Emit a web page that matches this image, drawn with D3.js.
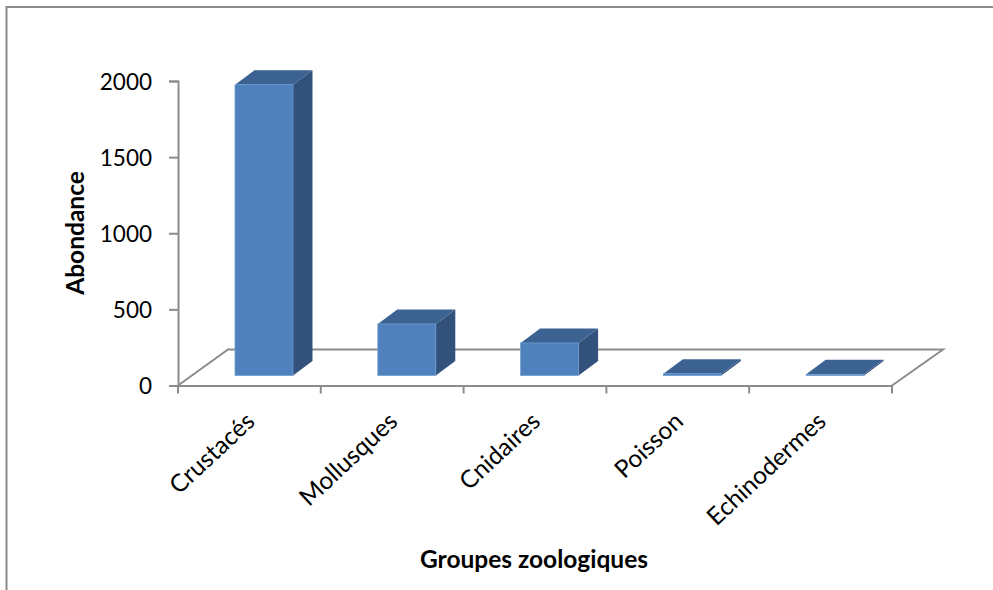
<!DOCTYPE html>
<html>
<head>
    <meta charset="utf-8">
    <title>Abondance par groupe zoologique</title>
    <script src="https://d3js.org/d3.v7.min.js"></script>
    <style>
        html, body { margin: 0; background: #fff; }
        text { font-family: Lato, "Open Sans", sans-serif; fill: #000; }
    </style>
</head>
<body>
    <div id="chart"></div>

    <script>
        const groupes = ["Crustacés", "Mollusques", "Cnidaires", "Poisson", "Echinodermes"];
        const abondance = [1910, 339, 214, 12, 8];
        const yTicks = [0, 500, 1000, 1500, 2000];

        const width = 993, height = 590;
        const grey = "#8c8c8c";

        const svg = d3.select("#chart")
            .append("svg")
            .attr("width", width)
            .attr("height", height)
            .style("display", "block");

        // cadre du graphique (haut et gauche seulement)
        svg.append("path")
            .attr("d", `M6.5,${height}V7H${width}`)
            .attr("fill", "none")
            .attr("stroke", grey)
            .attr("stroke-width", 2);

        const x = d3.scaleBand().domain(groupes).range([178, 892]).paddingInner(0.594).paddingOuter(0.297);
        const y = d3.scaleLinear().domain([0, 2000]).range([385.5, 81]);

        // sol en perspective
        const floorDx = 50, floorDy = 36;
        svg.append("path")
            .attr("d", `M178,385.5L${178 + floorDx},${385.5 - floorDy}H${892 + floorDx + 1}L892,385.5`)
            .attr("fill", "none")
            .attr("stroke", grey)
            .attr("stroke-width", 2);

        // axes
        const axisY = d3.axisLeft(y).tickValues(yTicks).tickSize(9).tickPadding(17).tickFormat(d3.format("d"));
        const gy = svg.append("g").attr("transform", "translate(178,0)").call(axisY);
        gy.selectAll("text")
            .attr("font-size", 22.5)
            .attr("dy", "0.37em")
            .style("font-family", "Lato, sans-serif");

        const axisX = d3.axisBottom(x).tickValues([]).tickSize(0);
        const gx = svg.append("g").attr("transform", "translate(0,385.5)").call(axisX);

        // graduations entre les groupes
        const step = x.step();
        gx.selectAll("line.sep")
            .data(d3.range(groupes.length + 1))
            .enter().append("line")
            .attr("class", "sep")
            .attr("x1", d => 178 + d * step)
            .attr("x2", d => 178 + d * step)
            .attr("y1", 0)
            .attr("y2", 8)
            .attr("stroke", grey)
            .attr("stroke-width", 2);

        svg.selectAll(".domain").attr("stroke", grey).attr("stroke-width", 2);
        gy.selectAll("line").attr("stroke", grey).attr("stroke-width", 2);

        // barres 3D : face avant, dessus, côté
        const base = 375.5, depthX = 19.5, depthY = 14.5, shift = 14.6;
        const scale = y(0) - y(1);
        const bars = svg.selectAll(".bar")
            .data(groupes.map((g, i) => ({ g, v: abondance[i] })))
            .enter().append("g")
            .attr("class", "bar");

        const barLeft = d => x(d.g) + shift;
        const barRight = d => barLeft(d) + x.bandwidth();
        const barTop = d => base - d.v * scale;

        bars.append("path")
            .attr("fill", "#32527c")
            .attr("d", d => `M${barRight(d)},${base}L${barRight(d) + depthX},${base - depthY}V${barTop(d) - depthY}L${barRight(d)},${barTop(d)}Z`);
        bars.append("path")
            .attr("fill", "#3c6292")
            .attr("d", d => `M${barLeft(d)},${barTop(d)}L${barLeft(d) + depthX},${barTop(d) - depthY}H${barRight(d) + depthX}L${barRight(d)},${barTop(d)}Z`);
        bars.append("rect")
            .attr("fill", "#4f81bd")
            .attr("stroke", "#6f9bd0")
            .attr("stroke-width", 0.75)
            .attr("x", barLeft)
            .attr("y", barTop)
            .attr("width", x.bandwidth())
            .attr("height", d => d.v * scale);

        // libellés des groupes, inclinés
        svg.selectAll(".cat")
            .data(groupes)
            .enter().append("text")
            .attr("class", "cat")
            .attr("text-anchor", "end")
            .attr("font-size", 24.5)
            .attr("transform", d => `translate(${x(d) + x.bandwidth() / 2 + 1},417) rotate(-43)`)
            .attr("dy", "0.35em")
            .text(d => d);

        svg.append("text")
            .attr("text-anchor", "middle")
            .attr("font-size", 24.5)
            .attr("font-weight", 700)
            .attr("transform", "translate(84,233) rotate(-90)")
            .text("Abondance");

        svg.append("text")
            .attr("text-anchor", "middle")
            .attr("font-size", 24.5)
            .attr("font-weight", 700)
            .attr("x", 534)
            .attr("y", 568)
            .text("Groupes zoologiques");
    </script>
</body>
</html>
